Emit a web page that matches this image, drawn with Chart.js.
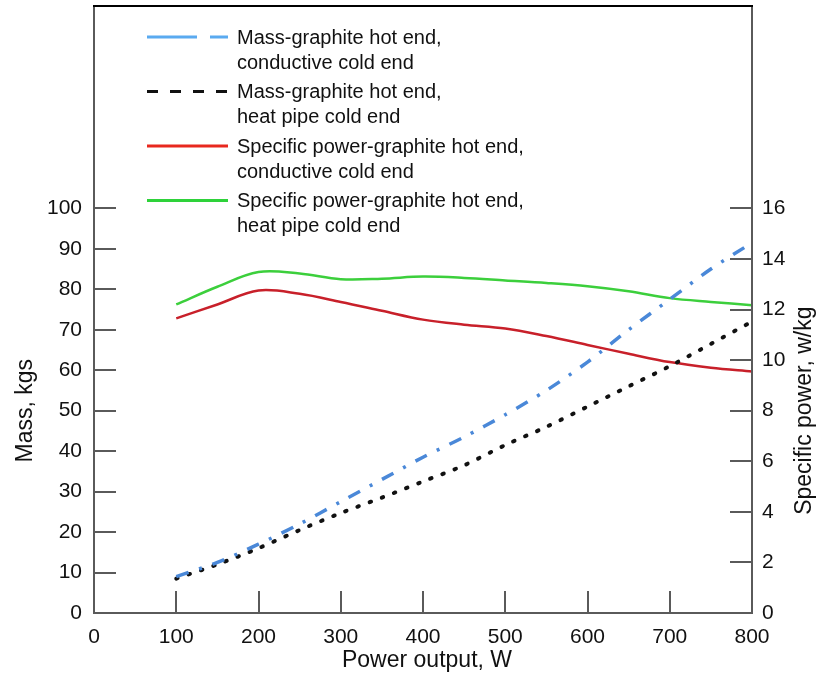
<!DOCTYPE html>
<html>
<head>
<meta charset="utf-8">
<script src="https://cdn.jsdelivr.net/npm/chart.js@4/dist/chart.umd.min.js"></script>
<style>
  html, body { margin: 0; padding: 0; background: #fff; }
  #wrap { width: 817px; height: 676px; position: relative; }
</style>
</head>
<body>
<div id="wrap"><canvas id="chart"></canvas></div>
<script>
// Power output (W)
const powerW = [100, 150, 200, 250, 300, 350, 400, 450, 500, 550, 600, 650, 700, 750, 800];

// Mass, kgs (left axis)
const massConductive = [9, 12.5, 17, 22, 27.5, 33, 38.5, 43.5, 49, 55, 62, 70, 77.5, 85, 91.5];
const massHeatPipe   = [8.5, 12, 16, 20.5, 24.7, 28.5, 32.5, 36.5, 41.5, 46, 51, 56, 61, 66.5, 72];

// Specific power, w/kg (right axis)
const specConductive = [11.65, 12.2, 12.75, 12.62, 12.3, 11.95, 11.6, 11.4, 11.25, 10.95, 10.6, 10.25, 9.92, 9.7, 9.55];
const specHeatPipe   = [12.2, 12.9, 13.48, 13.42, 13.2, 13.22, 13.3, 13.25, 13.15, 13.05, 12.92, 12.72, 12.45, 12.3, 12.17];

const seriesLabels = [
    ['Mass-graphite hot end,', 'conductive cold end'],
    ['Mass-graphite hot end,', 'heat pipe cold end'],
    ['Specific power-graphite hot end,', 'conductive cold end'],
    ['Specific power-graphite hot end,', 'heat pipe cold end']
];

const massTicks = [0, 10, 20, 30, 40, 50, 60, 70, 80, 90, 100];
const specTicks = [0, 2, 4, 6, 8, 10, 12, 14, 16];
const powerTicks = [0, 100, 200, 300, 400, 500, 600, 700, 800];

const FONT = '"Liberation Sans", Arial, Helvetica, sans-serif';
const AXIS_GREY = '#5a5a5a';

function pts(ys) {
    return powerW.map((x, i) => ({ x: x, y: ys[i] }));
}

// Legend drawn inside the plot, upper left
const legendSamples = [
    { color: '#5aaaf0', dash: [50, 13], width: 3 },
    { color: '#111111', dash: [11, 12], width: 3 },
    { color: '#e8281e', dash: [], width: 3 },
    { color: '#2ed23a', dash: [], width: 3 }
];

const framePlugin = {
    id: 'frame',
    afterDraw(chart) {
        const ctx = chart.ctx;
        const a = chart.chartArea;
        const sx = chart.scales.x, sy = chart.scales.y, sy2 = chart.scales.y2;
        ctx.save();

        // axis lines
        ctx.strokeStyle = AXIS_GREY;
        ctx.lineWidth = 2;
        ctx.beginPath();
        ctx.moveTo(a.left, a.top);
        ctx.lineTo(a.left, a.bottom);
        ctx.lineTo(a.right, a.bottom);
        ctx.lineTo(a.right, a.top);
        ctx.stroke();
        ctx.strokeStyle = '#000';
        ctx.beginPath();
        ctx.moveTo(a.left - 1, a.top);
        ctx.lineTo(a.right + 1, a.top);
        ctx.stroke();

        // inward tick marks
        ctx.strokeStyle = AXIS_GREY;
        const len = 22;
        ctx.beginPath();
        massTicks.slice(1).forEach(v => {
            const y = Math.round(sy.getPixelForValue(v));
            ctx.moveTo(a.left, y); ctx.lineTo(a.left + len, y);
        });
        specTicks.slice(1).forEach(v => {
            const y = Math.round(sy2.getPixelForValue(v));
            ctx.moveTo(a.right - len, y); ctx.lineTo(a.right, y);
        });
        powerTicks.slice(1, -1).forEach(v => {
            const x = Math.round(sx.getPixelForValue(v));
            ctx.moveTo(x, a.bottom); ctx.lineTo(x, a.bottom - len);
        });
        ctx.stroke();

        // axis titles
        ctx.fillStyle = '#111';
        ctx.font = '23px ' + FONT;
        ctx.textAlign = 'center';
        ctx.textBaseline = 'middle';
        ctx.fillText('Power output, W', 427, 661);
        ctx.save();
        ctx.translate(26, (sy.getPixelForValue(0) + sy.getPixelForValue(100)) / 2);
        ctx.rotate(-Math.PI / 2);
        ctx.fillText('Mass, kgs', 0, 0);
        ctx.restore();
        ctx.save();
        ctx.translate(805, (sy2.getPixelForValue(0) + sy2.getPixelForValue(16)) / 2);
        ctx.rotate(-Math.PI / 2);
        ctx.fillText('Specific power, w/kg', 0, 0);
        ctx.restore();

        // legend
        const lx = a.left + 53, tx = a.left + 143;
        ctx.font = '20px ' + FONT;
        ctx.textAlign = 'left';
        legendSamples.forEach((s, i) => {
            const y = a.top + 31 + i * 54.5;
            ctx.strokeStyle = s.color;
            ctx.lineWidth = s.width;
            ctx.setLineDash(s.dash);
            ctx.beginPath();
            ctx.moveTo(lx, y); ctx.lineTo(lx + 81, y);
            ctx.stroke();
            ctx.setLineDash([]);
            ctx.fillStyle = '#111';
            ctx.fillText(seriesLabels[i][0], tx, y + 1);
            ctx.fillText(seriesLabels[i][1], tx, y + 26);
        });
        ctx.restore();
    }
};

function noVPad(s) { s.paddingTop = 0; s.paddingBottom = 0; }

const ctx = document.getElementById('chart').getContext('2d');
new Chart(ctx, {
    type: 'line',
    data: {
        datasets: [{
            label: seriesLabels[0].join(' '),
            data: pts(massConductive),
            yAxisID: 'y',
            borderColor: '#4a88d8',
            borderWidth: 3.5,
            borderDash: [13, 11, 3, 11],
            tension: 0.3,
            pointRadius: 0
        }, {
            label: seriesLabels[1].join(' '),
            data: pts(massHeatPipe),
            yAxisID: 'y',
            borderColor: '#111111',
            borderWidth: 4,
            borderDash: [1.5, 11.5],
            borderCapStyle: 'round',
            tension: 0.3,
            pointRadius: 0
        }, {
            label: seriesLabels[2].join(' '),
            data: pts(specConductive),
            yAxisID: 'y2',
            borderColor: '#c8202a',
            borderWidth: 2.5,
            tension: 0.35,
            pointRadius: 0
        }, {
            label: seriesLabels[3].join(' '),
            data: pts(specHeatPipe),
            yAxisID: 'y2',
            borderColor: '#3ccf3c',
            borderWidth: 2.5,
            tension: 0.35,
            pointRadius: 0
        }]
    },
    options: {
        responsive: true,
        maintainAspectRatio: false,
        animation: false,
        layout: { padding: { top: 6, left: 0, right: 0, bottom: 0 } },
        plugins: {
            legend: { display: false },
            tooltip: { enabled: false }
        },
        scales: {
            x: {
                type: 'linear',
                min: 0, max: 800,
                grid: { display: false, drawTicks: false },
                border: { display: false },
                afterFit: s => { s.height = 63; s.paddingLeft = 0; s.paddingRight = 0; },
                ticks: {
                    stepSize: 100, padding: 12,
                    color: '#111', font: { family: FONT, size: 21 },
                    maxRotation: 0
                }
            },
            y: {
                position: 'left',
                min: 0, max: 150,
                grid: { display: false, drawTicks: false },
                border: { display: false },
                afterFit: s => { s.width = 94; noVPad(s); },
                ticks: {
                    stepSize: 10, padding: 12,
                    color: '#111', font: { family: FONT, size: 21 },
                    callback: v => massTicks.includes(v) ? v : null
                }
            },
            y2: {
                position: 'right',
                min: 0, max: 24,
                grid: { display: false, drawTicks: false },
                border: { display: false },
                afterFit: s => { s.width = 65; noVPad(s); },
                ticks: {
                    stepSize: 2, padding: 10,
                    color: '#111', font: { family: FONT, size: 21 },
                    callback: v => specTicks.includes(v) ? v : null
                }
            }
        }
    },
    plugins: [framePlugin]
});
</script>
</body>
</html>
